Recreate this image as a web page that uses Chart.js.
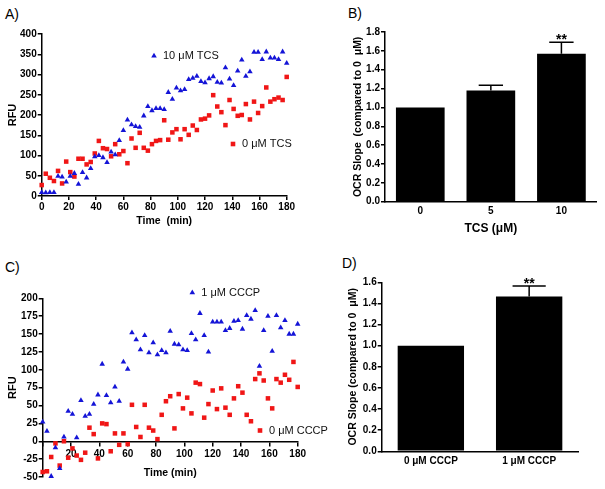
<!DOCTYPE html>
<html>
<head>
<meta charset="utf-8">
<script src="https://cdn.jsdelivr.net/npm/chart.js@4.4.1/dist/chart.umd.min.js"></script>
<style>
  body { margin: 0; background: #fff; width: 605px; height: 489px; position: relative; overflow: hidden;
         font-family: "Liberation Sans", Arial, sans-serif; }
  canvas { position: absolute; }
  .panel { position: absolute; font-size: 14px; line-height: 16px; color: #000; }
</style>
</head>
<body>
<div class="panel" style="left:5px;top:6px">A)</div>
<div class="panel" style="left:348px;top:5px">B)</div>
<div class="panel" style="left:5px;top:259px">C)</div>
<div class="panel" style="left:342px;top:255px">D)</div>

<canvas id="chartA" style="left:0;top:0" width="300" height="235"></canvas>
<canvas id="chartB" style="left:300px;top:0" width="305" height="240"></canvas>
<canvas id="chartC" style="left:0;top:240px" width="340" height="249"></canvas>
<canvas id="chartD" style="left:300px;top:240px" width="305" height="249"></canvas>

<script>
// sampling times (min)
const minutes = [0,3,6,9,12,15,18,21,24,27,30,33,36,39,42,45,48,51,54,57,60,63,66,69,72,75,78,81,84,87,90,
                 93,96,99,102,105,108,111,114,117,120,123,126,129,132,135,138,141,144,147,150,153,156,159,162,165,168,171,174,177,180];

// panel A - RFU
const tcs10 = [9,8,9,9,49,47,35,49,56,29,58,45,68,97,100,95,83,109,102,137,162,188,176,172,170,198,221,211,216,216,214,
               256,239,267,260,263,288,291,296,283,280,290,295,281,279,317,289,273,309,336,296,307,355,355,337,356,341,341,337,356,328];
const tcs0 = [27,55,45,37,62,31,85,59,48,92,92,78,84,105,136,118,116,98,128,103,111,81,142,119,156,119,112,128,136,138,187,
              139,157,165,140,165,151,174,163,189,191,199,249,221,207,175,237,215,198,200,227,189,233,205,222,268,233,239,243,237,294];

// panel C - RFU
const cccp1 = [27,14,-49,-9,-38,6,42,38,5,57,35,38,52,65,108,64,54,76,56,111,101,152,142,128,148,124,138,121,127,124,154,
               136,135,128,127,151,142,179,148,125,167,167,167,155,158,168,169,157,176,171,183,105,155,175,126,176,159,169,150,150,164];
const cccp0 = [-43,-42,-22,-3,-34,0,-23,-10,-20,-26,-16,19,10,-24,25,24,-14,11,-5,11,-4,51,20,6,51,19,15,3,37,56,63,
               18,66,46,61,39,82,80,33,52,71,45,74,47,37,60,77,68,37,28,87,95,85,60,46,87,82,93,86,111,76];

// panel B - OCR slope vs TCS
const tcsDoses = ['0', '5', '10'];
const tcsSlope = [1.0, 1.18, 1.57];
const tcsErr = [0, 0.055, 0.12];
const tcsSig = ['', '', '**'];

// panel D - OCR slope vs CCCP
const cccpDoses = ['0 \u03bcM CCCP', '1 \u03bcM CCCP'];
const cccpSlope = [1.0, 1.465];
const cccpErr = [0, 0.1];
const cccpSig = ['', '**'];

const BLUE = 'rgb(20,20,215)';
const RED = 'rgb(240,22,22)';
const FONT = '"Liberation Sans", Arial, sans-serif';

function pts(vals) {
  return minutes.map((t, i) => ({ x: t, y: vals[i] }));
}

function axisStyle(extra) {
  return Object.assign({
    border: { color: '#000', width: 1.5 },
    grid: { drawOnChartArea: false, color: '#000', tickLength: 4, lineWidth: 1.5 },
    ticks: { color: '#000', padding: 1, font: { family: FONT, size: 10, weight: 'bold' } }
  }, extra);
}

function title(text, size) {
  return { display: true, text: text, color: '#000', padding: 4, font: { family: FONT, size: size, weight: 'bold' } };
}

// error bars, significance stars, in-plot keys
const extras = {
  id: 'extras',
  afterDatasetsDraw(chart, args, opts) {
    const ctx = chart.ctx;
    ctx.save();
    if (opts.errors) {
      const meta = chart.getDatasetMeta(0);
      const yScale = chart.scales.y;
      opts.errors.forEach((e, i) => {
        const bar = meta.data[i];
        const v = chart.data.datasets[0].data[i];
        const top = yScale.getPixelForValue(v + e);
        if (e) {
          const half = bar.width / 4;
          ctx.strokeStyle = '#000';
          ctx.lineWidth = 1.5;
          ctx.beginPath();
          ctx.moveTo(bar.x, bar.y);
          ctx.lineTo(bar.x, top);
          ctx.moveTo(bar.x - half, top);
          ctx.lineTo(bar.x + half, top);
          ctx.stroke();
        }
        if (opts.stars && opts.stars[i]) {
          ctx.fillStyle = '#000';
          ctx.font = 'bold 14px ' + FONT;
          ctx.textAlign = 'center';
          ctx.textBaseline = 'alphabetic';
          ctx.fillText(opts.stars[i], bar.x, top + 2);
        }
      });
    }
    if (opts.keys) {
      opts.keys.forEach(k => {
        ctx.fillStyle = k.color;
        ctx.beginPath();
        if (k.style === 'triangle') {
          ctx.moveTo(k.x, k.y - 3.2);
          ctx.lineTo(k.x + 2.8, k.y + 1.6);
          ctx.lineTo(k.x - 2.8, k.y + 1.6);
          ctx.closePath();
        } else {
          ctx.rect(k.x - 2.3, k.y - 2.3, 4.6, 4.6);
        }
        ctx.fill();
        ctx.fillStyle = '#111';
        ctx.font = '11px ' + FONT;
        ctx.textAlign = 'left';
        ctx.textBaseline = 'middle';
        ctx.fillText(k.text, k.x + 9, k.y);
      });
    }
    ctx.restore();
  }
};

function scatterSet(vals, style, color) {
  return { data: pts(vals), pointStyle: style, pointRadius: 3.2, pointHoverRadius: 3.2,
           backgroundColor: color, borderWidth: 0, clip: false };
}

// A
new Chart(document.getElementById('chartA'), {
  type: 'scatter',
  data: { datasets: [scatterSet(tcs10, 'triangle', BLUE), scatterSet(tcs0, 'rect', RED)] },
  options: {
    responsive: false, animation: false,
    layout: { padding: { left: 2, top: 34, right: 13.3, bottom: 4 } },
    plugins: {
      legend: { display: false }, tooltip: { enabled: false },
      extras: { keys: [
        { x: 154, y: 56, style: 'triangle', color: BLUE, text: '10 \u03bcM TCS' },
        { x: 233, y: 144, style: 'rect', color: RED, text: '0 \u03bcM TCS' }
      ] }
    },
    scales: {
      x: axisStyle({ type: 'linear', min: 0, max: 180,
        ticks: { stepSize: 20, color: '#000', padding: 1, font: { family: FONT, size: 10, weight: 'bold' } },
        title: title('Time  (min)', 10.5),
        afterFit: s => { s.height = 35; } }),
      y: axisStyle({ min: 0, max: 400,
        ticks: { stepSize: 50, color: '#000', padding: 1, font: { family: FONT, size: 10, weight: 'bold' } },
        title: title('RFU', 11),
        afterFit: s => { s.width = 39.7; } })
    }
  },
  plugins: [extras]
});

// C
new Chart(document.getElementById('chartC'), {
  type: 'scatter',
  data: { datasets: [scatterSet(cccp1, 'triangle', BLUE), scatterSet(cccp0, 'rect', RED)] },
  options: {
    responsive: false, animation: false,
    layout: { padding: { left: 2, top: 58.3, right: 42.3, bottom: 12 } },
    plugins: {
      legend: { display: false }, tooltip: { enabled: false },
      extras: { keys: [
        { x: 192.3, y: 52.7, style: 'triangle', color: BLUE, text: '1 \u03bcM CCCP' },
        { x: 260, y: 190.5, style: 'rect', color: RED, text: '0 \u03bcM CCCP' }
      ] }
    },
    scales: {
      x: axisStyle({ type: 'linear', min: 0, max: 180, position: { y: 0 },
        ticks: { stepSize: 20, color: '#000', padding: 3, font: { family: FONT, size: 10, weight: 'bold' },
                 callback: v => (v === 0 ? '' : v) },
        title: title('Time (min)', 10.5) }),
      y: axisStyle({ min: -50, max: 200,
        ticks: { stepSize: 25, color: '#000', padding: 1, font: { family: FONT, size: 10, weight: 'bold' } },
        title: title('RFU', 11),
        afterFit: s => { s.width = 40.7; } })
    }
  },
  plugins: [extras]
});

function barChart(id, labels, values, errs, stars, opts) {
  return new Chart(document.getElementById(id), {
    type: 'bar',
    data: { labels: labels, datasets: [{ data: values, backgroundColor: '#000', borderWidth: 0,
                                         barPercentage: opts.barPct, categoryPercentage: 1 }] },
    options: {
      responsive: false, animation: false,
      layout: { padding: opts.padding },
      plugins: { legend: { display: false }, tooltip: { enabled: false },
                 extras: { errors: errs, stars: stars } },
      scales: {
        x: {
          border: { color: '#000', width: 1.5 },
          grid: { display: false, drawTicks: false },
          ticks: { color: '#000', padding: 4, font: { family: FONT, size: 10, weight: 'bold' } },
          title: opts.xTitle ? title(opts.xTitle, 12) : { display: false },
          afterFit: s => { s.height = opts.xHeight; }
        },
        y: axisStyle({ min: 0, max: opts.yMax,
          ticks: { stepSize: 0.2, color: '#000', padding: 1, font: { family: FONT, size: 10, weight: 'bold' },
                   callback: v => Number(v).toFixed(1) },
          title: title(opts.yTitle, 10.5),
          afterFit: s => { s.width = opts.yWidth; } })
      }
    },
    plugins: [extras]
  });
}

// B
barChart('chartB', tcsDoses, tcsSlope, tcsErr, tcsSig, {
  barPct: 0.69, yMax: 1.8, yWidth: 37.6, xHeight: 38.3, xTitle: 'TCS (\u03bcM)',
  yTitle: 'OCR Slope  (compared to 0  \u03bcM)',
  padding: { left: 47.4, top: 32, right: 8.3, bottom: 0 }
});

// D
barChart('chartD', cccpDoses, cccpSlope, cccpErr, cccpSig, {
  barPct: 0.675, yMax: 1.6, yWidth: 39, xHeight: 37.7, xTitle: null,
  yTitle: 'OCR Slope (compared to 0  \u03bcM)',
  padding: { left: 42.7, top: 42.3, right: 26.7, bottom: 0 }
});
</script>
</body>
</html>
